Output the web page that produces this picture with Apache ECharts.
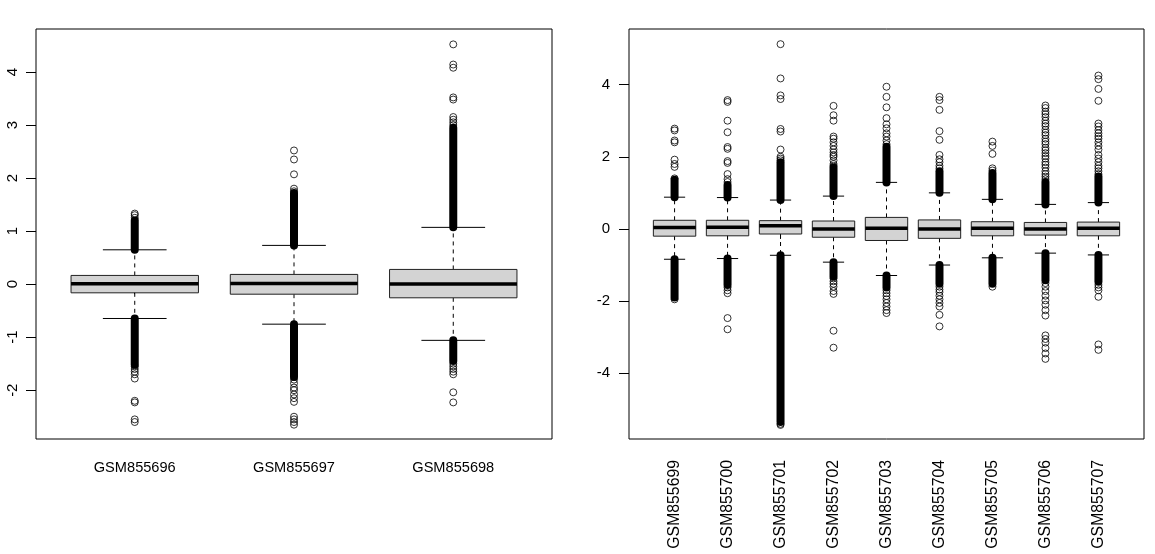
<!DOCTYPE html>
<html>
<head>
<meta charset="utf-8">
<script src="https://cdn.jsdelivr.net/npm/echarts@6/dist/echarts.min.js"></script>
<style>
  html, body { margin: 0; padding: 0; background: #fff; }
  #chart { width: 1155px; height: 554px; }
</style>
</head>
<body>
<div id="chart"></div>
<script>
// left panel: samples and box stats [lower whisker, Q1, median, Q3, upper whisker]
const leftCats = ['GSM855696', 'GSM855697', 'GSM855698'];
const leftStats = [
  [-0.648, -0.164, 0.005, 0.164, 0.647],
  [-0.755, -0.19, 0.013, 0.183, 0.73],
  [-1.06, -0.258, 0.0, 0.277, 1.07]
];
// runs of outliers so close together they print as a solid bar [from, to]
const leftDense = [
  [[0.65, 1.2], [-0.65, -1.52]],
  [[0.73, 1.72], [-0.755, -1.75]],
  [[1.07, 2.95], [-1.06, -1.45]]
];
const leftOutliers = [
  [1.25, 1.3, 1.33, -1.55, -1.6, -1.65, -1.7, -1.78, -2.2, -2.23, -2.55, -2.6],
  [1.75, 1.8, 2.07, 2.35, 2.52, -1.8, -1.87, -1.95, -2.0, -2.08, -2.15, -2.22, -2.5, -2.55, -2.6, -2.65],
  [3.0, 3.05, 3.1, 3.15, 3.48, 3.52, 4.08, 4.14, 4.52, -1.5, -1.55, -1.6, -1.65, -1.7, -2.04, -2.23]
];
const leftTicks = [-2, -1, 0, 1, 2, 3, 4];

// right panel
const rightCats = ['GSM855699', 'GSM855700', 'GSM855701', 'GSM855702', 'GSM855703',
  'GSM855704', 'GSM855705', 'GSM855706', 'GSM855707'];
const rightStats = [
  [-0.84, -0.2, 0.04, 0.24, 0.88],
  [-0.82, -0.19, 0.05, 0.24, 0.87],
  [-0.73, -0.14, 0.09, 0.23, 0.8],
  [-0.92, -0.23, 0.0, 0.22, 0.91],
  [-1.29, -0.32, 0.02, 0.32, 1.29],
  [-1.0, -0.26, 0.0, 0.25, 1.0],
  [-0.8, -0.19, 0.02, 0.2, 0.82],
  [-0.67, -0.17, 0.0, 0.18, 0.68],
  [-0.72, -0.19, 0.02, 0.19, 0.73]
];
const rightDense = [
  [[0.88, 1.36], [-0.84, -1.9]],
  [[0.87, 1.22], [-0.82, -1.55]],
  [[0.8, 1.85], [-0.73, -5.35]],
  [[0.91, 1.7], [-0.92, -1.32]],
  [[1.29, 2.28], [-1.29, -1.62]],
  [[1.0, 1.6], [-1.0, -1.52]],
  [[0.82, 1.55], [-0.8, -1.52]],
  [[0.68, 1.3], [-0.67, -1.42]],
  [[0.73, 1.45], [-0.72, -1.46]]
];
const rightOutliers = [
  [1.4, 1.72, 1.8, 1.92, 2.4, 2.45, 2.73, 2.78, -1.95],
  [1.3, 1.38, 1.52, 1.83, 1.88, 2.22, 2.27, 2.68, 3.0, 3.52, 3.57, -1.62, -1.7, -1.78, -2.47, -2.78],
  [1.9, 1.95, 2.0, 2.2, 2.7, 2.77, 3.6, 3.7, 4.17, 5.12, -5.4, -5.43],
  [1.75, 1.8, 1.9, 2.0, 2.05, 2.12, 2.2, 2.3, 2.4, 2.5, 2.56, 3.0, 3.15, 3.41,
   -1.37, -1.45, -1.52, -1.6, -1.72, -1.8, -2.82, -3.29],
  [2.35, 2.45, 2.56, 2.65, 2.79, 2.9, 3.07, 3.37, 3.66, 3.94,
   -1.7, -1.78, -1.86, -1.95, -2.05, -2.15, -2.25, -2.33],
  [1.68, 1.75, 1.85, 1.93, 2.05, 2.47, 2.71, 3.3, 3.57, 3.66,
   -1.6, -1.68, -1.75, -1.85, -1.95, -2.05, -2.15, -2.38, -2.7],
  [1.62, 1.68, 2.08, 2.3, 2.42, -1.6],
  [1.38, 1.45, 1.52, 1.6, 1.7, 1.78, 1.85, 1.95, 2.02, 2.1, 2.18, 2.25, 2.35, 2.42, 2.5,
   2.6, 2.67, 2.75, 2.85, 2.92, 3.0, 3.1, 3.18, 3.25, 3.35, 3.42,
   -1.5, -1.6, -1.72, -1.85, -1.98, -2.1, -2.25, -2.4, -2.95, -3.05, -3.15, -3.3, -3.45, -3.6],
  [1.52, 1.6, 1.68, 1.75, 1.85, 1.95, 2.05, 2.2, 2.3, 2.4, 2.5, 2.57, 2.65, 2.74, 2.84, 2.92,
   3.55, 3.88, 4.15, 4.25, -1.55, -1.62, -1.7, -1.88, -3.2, -3.35]
];
const rightTicks = [-4, -2, 0, 2, 4];

const FONT = '"Liberation Sans", Arial, sans-serif';

// box + dashed whiskers + staples, R style
function renderBox(params, api) {
  const x = api.value(0);
  const unit = api.size([1, 0])[0];
  const lo = api.coord([x, api.value(1)]);
  const q1 = api.coord([x, api.value(2)]);
  const md = api.coord([x, api.value(3)]);
  const q3 = api.coord([x, api.value(4)]);
  const hi = api.coord([x, api.value(5)]);
  const cx = lo[0];
  const bw = unit * 0.4, sw = unit * 0.2;
  const dash = { stroke: '#000', lineWidth: 1, lineDash: [4, 4] };
  const solid = { stroke: '#000', lineWidth: 1 };
  return {
    type: 'group',
    children: [
      { type: 'line', shape: { x1: cx, y1: q3[1], x2: cx, y2: hi[1] }, style: dash },
      { type: 'line', shape: { x1: cx, y1: q1[1], x2: cx, y2: lo[1] }, style: dash },
      { type: 'line', shape: { x1: cx - sw, y1: hi[1], x2: cx + sw, y2: hi[1] }, style: solid },
      { type: 'line', shape: { x1: cx - sw, y1: lo[1], x2: cx + sw, y2: lo[1] }, style: solid },
      { type: 'rect', shape: { x: cx - bw, y: q3[1], width: bw * 2, height: q1[1] - q3[1] },
        style: { fill: '#d3d3d3', stroke: '#222', lineWidth: 1 } },
      { type: 'line', shape: { x1: cx - bw, y1: md[1], x2: cx + bw, y2: md[1] },
        style: { stroke: '#000', lineWidth: 3.5 } }
    ]
  };
}

function renderDense(params, api) {
  const a = api.coord([api.value(0), api.value(1)]);
  const b = api.coord([api.value(0), api.value(2)]);
  return {
    type: 'line',
    shape: { x1: a[0], y1: a[1], x2: b[0], y2: b[1] },
    style: { stroke: '#000', lineWidth: 8, lineCap: 'round' }
  };
}

function panelSeries(idx, stats, dense, outliers) {
  const boxData = stats.map((s, i) => [i + 1].concat(s));
  const denseData = [];
  dense.forEach((runs, i) => runs.forEach(r => denseData.push([i + 1, r[0], r[1]])));
  const outData = [];
  outliers.forEach((vals, i) => vals.forEach(v => outData.push([i + 1, v])));
  return [
    { type: 'custom', xAxisIndex: idx, yAxisIndex: idx, renderItem: renderBox, data: boxData, z: 2 },
    { type: 'custom', xAxisIndex: idx, yAxisIndex: idx, renderItem: renderDense, data: denseData, z: 3 },
    { type: 'scatter', xAxisIndex: idx, yAxisIndex: idx, data: outData, symbol: 'circle', symbolSize: 7,
      itemStyle: { color: 'rgba(0,0,0,0)', borderColor: '#000', borderWidth: 1 }, z: 4 }
  ];
}

const n1 = leftCats.length, n2 = rightCats.length;
const tickStyle = { show: true, length: 10, lineStyle: { color: '#000', width: 1 } };

const option = {
  animation: false,
  grid: [
    { left: 36, top: 29, width: 516, height: 410, show: true, borderColor: '#000', borderWidth: 1, backgroundColor: 'transparent' },
    { left: 629, top: 29, width: 515, height: 410, show: true, borderColor: '#000', borderWidth: 1, backgroundColor: 'transparent' }
  ],
  xAxis: [
    {
      gridIndex: 0, type: 'value', min: 0.5 - 0.04 * n1, max: n1 + 0.5 + 0.04 * n1,
      axisLine: { show: false }, splitLine: { show: false },
      axisTick: Object.assign({ customValues: leftCats.map((c, i) => i + 1) }, tickStyle),
      axisLabel: { customValues: leftCats.map((c, i) => i + 1), formatter: v => leftCats[Math.round(v) - 1],
        margin: 21, fontSize: 14.6, fontFamily: FONT, color: '#000' }
    },
    {
      gridIndex: 1, type: 'value', min: 0.5 - 0.04 * n2, max: n2 + 0.5 + 0.04 * n2,
      axisLine: { show: false }, splitLine: { show: false },
      axisTick: Object.assign({ customValues: rightCats.map((c, i) => i + 1) }, tickStyle),
      axisLabel: { customValues: rightCats.map((c, i) => i + 1), formatter: v => rightCats[Math.round(v) - 1],
        rotate: 90, margin: 21, fontSize: 15.8, fontFamily: FONT, color: '#000' }
    }
  ],
  yAxis: [
    {
      gridIndex: 0, type: 'value', min: -2.92, max: 4.81,
      axisLine: { show: false }, splitLine: { show: false },
      axisTick: Object.assign({ customValues: leftTicks }, tickStyle),
      axisLabel: { customValues: leftTicks, rotate: 90, margin: 16, fontSize: 15, fontFamily: FONT, color: '#000' }
    },
    {
      gridIndex: 1, type: 'value', min: -5.82, max: 5.54,
      axisLine: { show: false }, splitLine: { show: false },
      axisTick: Object.assign({ customValues: rightTicks }, tickStyle),
      axisLabel: { customValues: rightTicks, margin: 19, fontSize: 15, fontFamily: FONT, color: '#000' }
    }
  ],
  series: panelSeries(0, leftStats, leftDense, leftOutliers)
    .concat(panelSeries(1, rightStats, rightDense, rightOutliers))
};

const myChart = echarts.init(document.getElementById('chart'));
myChart.setOption(option);
</script>
</body>
</html>
